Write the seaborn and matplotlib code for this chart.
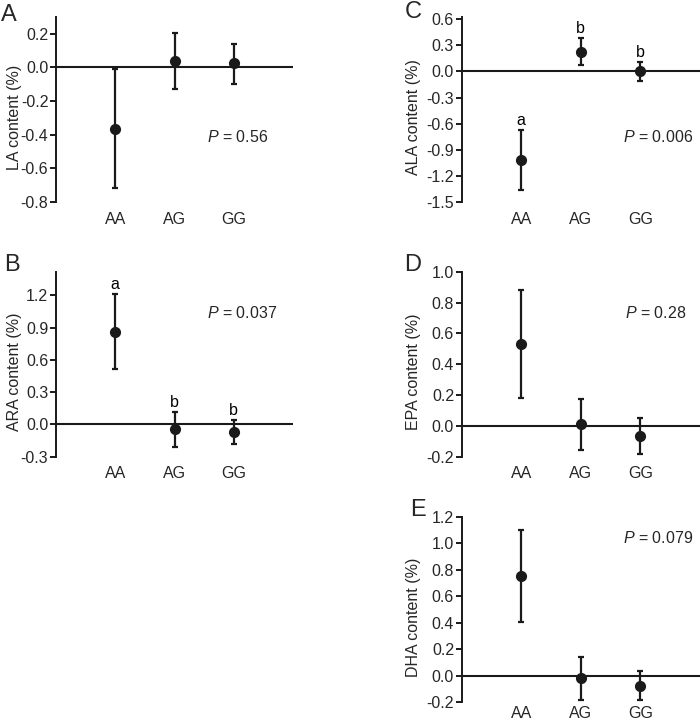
import matplotlib
matplotlib.use("Agg")
import matplotlib.pyplot as plt
import seaborn as sns
import numpy as np

sns.set_theme(style="white")
plt.rcParams['font.family'] = ['Liberation Sans', 'DejaVu Sans']
plt.rcParams['axes.unicode_minus'] = False
plt.rcParams['mathtext.fontset'] = 'custom'
plt.rcParams['mathtext.it'] = 'Liberation Sans:italic'
plt.rcParams['mathtext.rm'] = 'Liberation Sans'

genotypes = ["AA", "AG", "GG"]

la_mean = [-0.366, 0.038, 0.024]
la_low = [-0.718, -0.127, -0.096]
la_high = [-0.010, 0.203, 0.141]

ara_mean = [0.861, -0.047, -0.072]
ara_low = [0.520, -0.210, -0.180]
ara_high = [1.212, 0.115, 0.037]
ara_letters = ["a", "b", "b"]

ala_mean = [-1.014, 0.217, 0.000]
ala_low = [-1.354, 0.069, -0.114]
ala_high = [-0.670, 0.382, 0.111]
ala_letters = ["a", "b", "b"]

epa_mean = [0.532, 0.009, -0.065]
epa_low = [0.182, -0.156, -0.180]
epa_high = [0.883, 0.175, 0.052]

dha_mean = [0.753, -0.018, -0.075]
dha_low = [0.404, -0.181, -0.186]
dha_high = [1.097, 0.143, 0.038]

p_values = ["0.56", "0.037", "0.006", "0.28", "0.079"]
ylabels = ["LA content (%)", "ARA content (%)", "ALA content (%)",
           "EPA content (%)", "DHA content (%)"]
panel_letters = ["A", "B", "C", "D", "E"]

W, H = 700, 721
fig = plt.figure(figsize=(7, 7.21), dpi=100)

def rect(l, r, t, b):
    return [l / W, 1 - b / H, (r - l) / W, (b - t) / H]

panels = [
    dict(rect=rect(56, 293, 17, 202), mean=la_mean, low=la_low, high=la_high, letters=None,
         ylim=(-0.8, 0.3), ticks=np.arange(-0.8, 0.21, 0.2), p=(0.637, 0.353), lab=(9, 15),
         ylx=-0.145, xpad=7),
    dict(rect=rect(56, 293, 271.7, 456.7), mean=ara_mean, low=ara_low, high=ara_high, letters=ara_letters,
         ylim=(-0.3, 1.42), ticks=np.arange(-0.3, 1.21, 0.3), p=(0.637, 0.778), lab=(12, 265),
         ylx=-0.145, xpad=7),
    dict(rect=rect(461.7, 700, 17.3, 202.3), mean=ala_mean, low=ala_low, high=ala_high, letters=ala_letters,
         ylim=(-1.5, 0.62), ticks=np.arange(-1.5, 0.61, 0.3), p=(0.677, 0.355), lab=(413, 12),
         ylx=-0.17, xpad=7),
    dict(rect=rect(461.7, 700, 271.7, 456.7), mean=epa_mean, low=epa_low, high=epa_high, letters=None,
         ylim=(-0.2, 1.0), ticks=np.arange(-0.2, 1.01, 0.2), p=(0.685, 0.775), lab=(413, 265),
         ylx=-0.17, xpad=7),
    dict(rect=rect(461.7, 700, 516.7, 702.3), mean=dha_mean, low=dha_low, high=dha_high, letters=None,
         ylim=(-0.2, 1.2), ticks=np.arange(-0.2, 1.21, 0.2), p=(0.678, 0.887), lab=(418, 510),
         ylx=-0.17, xpad=2.5),
]

dark = "#1a1a1a"
fs = 11.5
for i, pn in enumerate(panels):
    ax = fig.add_axes(pn["rect"])
    mean = np.array(pn["mean"])
    low = np.array(pn["low"])
    high = np.array(pn["high"])
    ax.axhline(0, color=dark, lw=1.5, zorder=1)
    sns.pointplot(x=genotypes, y=mean, ax=ax, color=dark, linestyle="none",
                  markers="o", markersize=6, errorbar=None, zorder=4)
    xs = np.arange(len(genotypes))
    ax.errorbar(xs, mean, yerr=[mean - low, high - mean], fmt="none",
                ecolor=dark, elinewidth=1.6, capsize=2.5, capthick=1.6, zorder=3)
    if pn["letters"]:
        for x, h, t in zip(xs, high, pn["letters"]):
            ax.annotate(t, (x, h), xytext=(0, 1.5), textcoords="offset points",
                        ha="center", va="bottom", fontsize=fs, color="black")
    ax.set_xlim(-1.0, 3.0)
    ax.set_ylim(*pn["ylim"])
    ticks = np.round(pn["ticks"], 1) + 0.0
    ax.set_yticks(ticks)
    ax.set_yticklabels([f"{abs(v):.1f}" if abs(v) < 1e-9 else f"{v:.1f}" for v in ticks])
    for s in ["top", "right", "bottom"]:
        ax.spines[s].set_visible(False)
    ax.spines["left"].set_color(dark)
    ax.spines["left"].set_linewidth(1.4)
    ax.tick_params(axis="y", direction="out", length=4, width=1.4, color=dark,
                   labelsize=fs, pad=1.5, left=True)
    ax.tick_params(axis="x", length=0, labelsize=fs, pad=pn["xpad"])
    ax.set_xlabel("")
    ax.set_ylabel(ylabels[i], fontsize=fs)
    ax.yaxis.set_label_coords(pn["ylx"], 0.46)
    ax.text(pn["p"][0], pn["p"][1], "$\\mathit{P}$ = " + p_values[i], transform=ax.transAxes,
            ha="left", va="center", fontsize=fs)
    ax.set_facecolor("none")
    fig.text(pn["lab"][0] / W, 1 - pn["lab"][1] / H, panel_letters[i],
             ha="center", va="center", fontsize=17)

fig.savefig("out.png", dpi=100)
